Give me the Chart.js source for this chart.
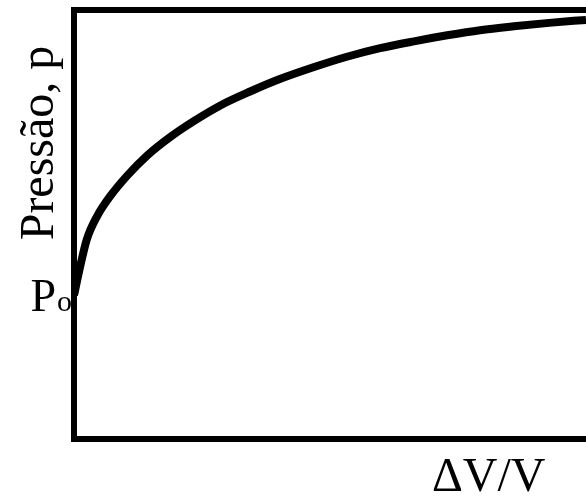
<!DOCTYPE html>
<html lang="pt">
<head>
<meta charset="UTF-8">
<title>Pressão x ΔV/V</title>
<script src="https://cdn.jsdelivr.net/npm/chart.js"></script>
<style>
  html, body { margin: 0; padding: 0; background: #fff; overflow: hidden; }
  #wrap { width: 586px; height: 497px; }
</style>
</head>
<body>
<div id="wrap"><canvas id="chart"></canvas></div>
<script>
// ΔV/V (fraction of the visible box width) and pressure (fraction of box height)
const strain = [0, 0.012, 0.025, 0.045, 0.070, 0.104, 0.143, 0.188, 0.234, 0.285, 0.344,
                0.402, 0.469, 0.533, 0.598, 0.664, 0.729, 0.793, 0.859, 0.928, 1.0];
const pressure = [0.335, 0.402, 0.465, 0.519, 0.565, 0.614, 0.661, 0.704, 0.741, 0.777, 0.810,
                  0.839, 0.867, 0.891, 0.911, 0.927, 0.941, 0.953, 0.962, 0.970, 0.977];
const yTitle = "Pressão, p";
const xTitle = "ΔV/V";
const p0Main = "P";
const p0Sub = "o";
const xTitlePos = 0.81;
const yTitlePos = 0.69;

const serif = '"Liberation Serif", "Times New Roman", serif';

const textLabels = {
  id: "textLabels",
  afterDraw(chart) {
    const { ctx, scales } = chart;
    const x = scales.x, y = scales.y;
    ctx.save();
    ctx.fillStyle = "#000";

    // rotated y title
    ctx.save();
    ctx.translate(53, y.getPixelForValue(yTitlePos));
    ctx.rotate(-Math.PI / 2);
    ctx.font = "48px " + serif;
    ctx.textAlign = "center";
    ctx.textBaseline = "alphabetic";
    ctx.fillText(yTitle, 0, 0);
    ctx.restore();

    // P0 marker at the starting pressure
    const base = y.getPixelForValue(pressure[0]) + 16;
    ctx.textBaseline = "alphabetic";
    ctx.textAlign = "right";
    ctx.font = "30px " + serif;
    const subW = ctx.measureText(p0Sub).width;
    ctx.fillText(p0Sub, 72, base);
    ctx.font = "46px " + serif;
    ctx.fillText(p0Main, 72 - subW - 1, base);

    // x title
    ctx.font = "48px " + serif;
    ctx.textAlign = "center";
    ctx.fillText(xTitle, x.getPixelForValue(xTitlePos), 491);
    ctx.restore();
  }
};

new Chart(document.getElementById("chart"), {
  type: "line",
  data: {
    datasets: [{
      data: strain.map((v, i) => ({ x: v, y: pressure[i] })),
      borderColor: "#000",
      borderWidth: 8,
      pointRadius: 0,
      cubicInterpolationMode: "monotone",
      fill: false
    }]
  },
  options: {
    responsive: true,
    maintainAspectRatio: false,
    animation: false,
    layout: { padding: 0 },
    plugins: { legend: { display: false }, tooltip: { enabled: false } },
    scales: {
      x: {
        type: "linear", min: 0, max: 1,
        ticks: { display: false },
        grid: { display: false },
        border: { display: true, color: "#000", width: 6 },
        afterFit(s) { s.height = 58; }
      },
      xTop: {
        type: "linear", position: "top", min: 0, max: 1,
        ticks: { display: false },
        grid: { display: false },
        border: { display: true, color: "#000", width: 6 },
        afterFit(s) { s.height = 10; }
      },
      y: {
        min: 0, max: 1,
        ticks: { display: false },
        grid: { display: false },
        border: { display: true, color: "#000", width: 6 },
        afterFit(s) { s.width = 74; }
      }
    }
  },
  plugins: [textLabels]
});
</script>
</body>
</html>
